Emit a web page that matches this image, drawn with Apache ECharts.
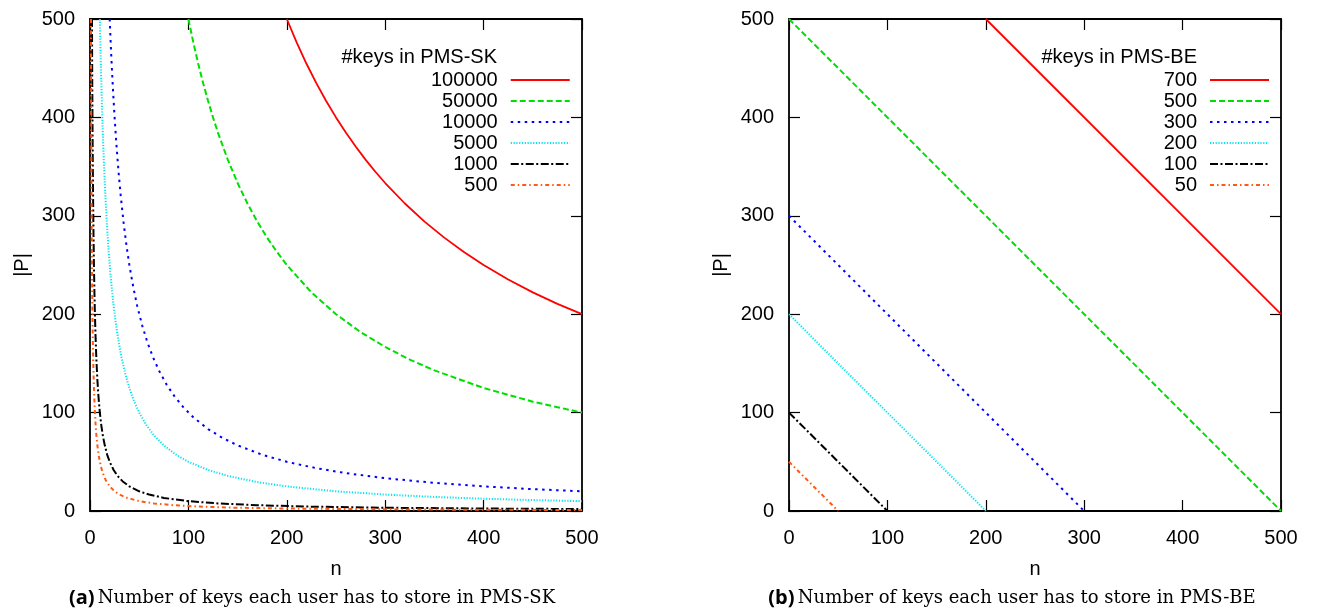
<!DOCTYPE html>
<html>
<head>
<meta charset="utf-8">
<script src="https://cdn.jsdelivr.net/npm/echarts@6/dist/echarts.min.js"></script>
<style>
  html, body { margin: 0; padding: 0; background: #fff; }
  #main { width: 1317px; height: 613px; }
</style>
</head>
<body>
<div id="main"></div>
<script>
// axis ticks, shared by both panels
const nTicks = [0, 100, 200, 300, 400, 500]
const pTicks = [0, 100, 200, 300, 400, 500]

// (a) PMS-SK: [n, |P|]
const sk100000 = [[200, 500], [210, 476.2], [220, 454.5], [230, 434.8], [240, 416.7], [250, 400], [260, 384.6], [270, 370.4], [280, 357.1], [290, 344.8], [300, 333.3], [320, 312.5], [340, 294.1], [360, 277.8], [380, 263.2], [400, 250], [425, 235.3], [450, 222.2], [475, 210.5], [500, 200]]
const sk50000 = [[100, 500], [105, 476.2], [110, 454.5], [115, 434.8], [120, 416.7], [125, 400], [130, 384.6], [140, 357.1], [150, 333.3], [160, 312.5], [170, 294.1], [180, 277.8], [190, 263.2], [200, 250], [225, 222.2], [250, 200], [275, 181.8], [300, 166.7], [325, 153.8], [350, 142.9], [400, 125], [450, 111.1], [500, 100]]
const sk10000 = [[20, 500], [21, 476.2], [22, 454.5], [23.5, 425.5], [25, 400], [27, 370.4], [29, 344.8], [31, 322.6], [34, 294.1], [37, 270.3], [40, 250], [44, 227.3], [48, 208.3], [53, 188.7], [58, 172.4], [64, 156.3], [70, 142.9], [78, 128.2], [86, 116.3], [95, 105.3], [105, 95.2], [120, 83.3], [135, 74.1], [150, 66.7], [175, 57.1], [200, 50], [230, 43.5], [260, 38.5], [300, 33.3], [350, 28.6], [400, 25], [450, 22.2], [500, 20]]
const sk5000 = [[10, 500], [10.5, 476.2], [11, 454.5], [12, 416.7], [13, 384.6], [14, 357.1], [15.5, 322.6], [17, 294.1], [19, 263.2], [21, 238.1], [23.5, 212.8], [26, 192.3], [29, 172.4], [32, 156.3], [36, 138.9], [40, 125], [45, 111.1], [50, 100], [57, 87.7], [65, 76.9], [75, 66.7], [87, 57.5], [100, 50], [120, 41.7], [140, 35.7], [170, 29.4], [200, 25], [250, 20], [300, 16.7], [350, 14.3], [400, 12.5], [450, 11.1], [500, 10]]
const sk1000 = [[2, 500], [2.2, 454.5], [2.5, 400], [2.8, 357.1], [3.2, 312.5], [3.6, 277.8], [4, 250], [4.5, 222.2], [5, 200], [5.7, 175.4], [6.5, 153.8], [7.5, 133.3], [8.5, 117.6], [10, 100], [11.5, 87], [13, 76.9], [15, 66.7], [17.5, 57.1], [20, 50], [24, 41.7], [28, 35.7], [33, 30.3], [40, 25], [50, 20], [60, 16.7], [75, 13.3], [100, 10], [130, 7.7], [170, 5.9], [220, 4.5], [300, 3.3], [400, 2.5], [500, 2]]
const sk500 = [[1, 500], [1.1, 454.5], [1.25, 400], [1.4, 357.1], [1.6, 312.5], [1.8, 277.8], [2, 250], [2.3, 217.4], [2.6, 192.3], [3, 166.7], [3.5, 142.9], [4, 125], [4.7, 106.4], [5.5, 90.9], [6.5, 76.9], [7.5, 66.7], [9, 55.6], [11, 45.5], [13, 38.5], [16, 31.3], [20, 25], [25, 20], [30, 16.7], [38, 13.2], [50, 10], [65, 7.7], [85, 5.9], [110, 4.5], [150, 3.3], [200, 2.5], [300, 1.7], [400, 1.25], [500, 1]]

const be700 = [[200, 500], [500, 200]]
const be500 = [[0, 500], [500, 0]]
const be300 = [[0, 300], [300, 0]]
const be200 = [[0, 200], [200, 0]]
const be100 = [[0, 100], [100, 0]]
const be50 = [[0, 50], [50, 0]]

const skNames = ['100000', '50000', '10000', '5000', '1000', '500']
const beNames = ['700', '500', '300', '200', '100', '50']

// gnuplot-like line types, same order in both panels
const styles = [
  { color: '#ff0000', type: 'solid' },
  { color: '#00e000', type: [6, 3] },
  { color: '#0000ff', type: [2.5, 4.5] },
  { color: '#00e5ee', type: [1.2, 1.6] },
  { color: '#000000', type: [8, 2.5, 2, 2.5] },
  { color: '#ff5a14', type: [4, 3, 1.5, 3] }
]

const font = 'Liberation Sans, Arial, sans-serif'

function mkSeries (prefix, names, datas, grid) {
  return datas.map((d, i) => ({
    name: prefix + names[i],
    type: 'line',
    xAxisIndex: grid * 2,
    yAxisIndex: grid * 2,
    data: d,
    symbol: 'none',
    lineStyle: { width: i === 0 ? 1.8 : 2, color: styles[i].color, type: styles[i].type },
    itemStyle: { color: styles[i].color },
    silent: true,
    animation: false
  }))
}

function axesFor (grid) {
  const line = { show: true, onZero: false, lineStyle: { color: '#000', width: 1.8 } }
  const tick = { show: true, inside: true, length: 11, lineStyle: { color: '#000', width: 1.2 } }
  const label = { fontFamily: font, fontSize: 20, color: '#000' }
  const xs = [
    {
      gridIndex: grid, type: 'value', min: nTicks[0], max: nTicks[nTicks.length - 1], interval: 100,
      axisLine: line, axisTick: tick, splitLine: { show: false },
      axisLabel: Object.assign({ margin: 17 }, label),
      name: 'n', nameLocation: 'middle', nameGap: 48,
      nameTextStyle: { fontFamily: font, fontSize: 20, color: '#000' }
    },
    {
      gridIndex: grid, type: 'value', position: 'top', min: nTicks[0], max: nTicks[nTicks.length - 1], interval: 100,
      axisLine: line, axisTick: tick, splitLine: { show: false }, axisLabel: { show: false }
    }
  ]
  const ys = [
    {
      gridIndex: grid, type: 'value', min: pTicks[0], max: pTicks[pTicks.length - 1], interval: 100,
      axisLine: line, axisTick: tick, splitLine: { show: false },
      axisLabel: Object.assign({ margin: 15 }, label),
      name: '|P|', nameLocation: 'middle', nameGap: 58, nameRotate: 90,
      nameTextStyle: { fontFamily: font, fontSize: 20, color: '#000' }
    },
    {
      gridIndex: grid, type: 'value', position: 'right', min: pTicks[0], max: pTicks[pTicks.length - 1], interval: 100,
      axisLine: line, axisTick: tick, splitLine: { show: false }, axisLabel: { show: false }
    }
  ]
  return { xs, ys }
}

function mkLegend (prefix, names, left) {
  return {
    data: names.map(n => prefix + n),
    orient: 'vertical',
    align: 'right',
    left: left,
    top: 65,
    itemWidth: 59,
    itemHeight: 20,
    itemGap: 1,
    selectedMode: false,
    itemStyle: { opacity: 0 },
    formatter: name => '{t|' + name.slice(3) + '}',
    textStyle: {
      rich: {
        t: { width: 66, align: 'right', fontFamily: font, fontSize: 20, lineHeight: 20, color: '#000', padding: [0, 8, 0, 0] }
      }
    }
  }
}

const a0 = axesFor(0)
const a1 = axesFor(1)

const captionRich = {
  b: { fontFamily: 'Open Sans', fontWeight: 'bold', fontSize: 20, fill: '#000' },
  t: { fontFamily: 'DejaVu Serif', fontSize: 18, fill: '#000' }
}

const chart = echarts.init(document.getElementById('main'))
chart.setOption({
  animation: false,
  grid: [
    { left: 90, right: 1317 - 582, top: 19, bottom: 613 - 511 },
    { left: 789, right: 1317 - 1281, top: 19, bottom: 613 - 511 }
  ],
  xAxis: [...a0.xs, ...a1.xs],
  yAxis: [...a0.ys, ...a1.ys],
  legend: [
    mkLegend('sk-', skNames, 426),
    mkLegend('be-', beNames, 1126)
  ],
  graphic: [
    { type: 'text', x: 497, y: 57, style: { text: '#keys in PMS-SK', align: 'right', verticalAlign: 'middle', fontFamily: font, fontSize: 20, fill: '#000' } },
    { type: 'text', x: 1197, y: 57, style: { text: '#keys in PMS-BE', align: 'right', verticalAlign: 'middle', fontFamily: font, fontSize: 20, fill: '#000' } },
    {
      type: 'text', x: 312, y: 598,
      style: {
        text: '{b|(a)} {t|Number of keys each user has to store in PMS-SK}',
        align: 'center', verticalAlign: 'middle', rich: captionRich
      }
    },
    {
      type: 'text', x: 1012, y: 598,
      style: {
        text: '{b|(b)} {t|Number of keys each user has to store in PMS-BE}',
        align: 'center', verticalAlign: 'middle', rich: captionRich
      }
    }
  ],
  series: [
    ...mkSeries('sk-', skNames, [sk100000, sk50000, sk10000, sk5000, sk1000, sk500], 0),
    ...mkSeries('be-', beNames, [be700, be500, be300, be200, be100, be50], 1)
  ]
})
</script>
</body>
</html>
